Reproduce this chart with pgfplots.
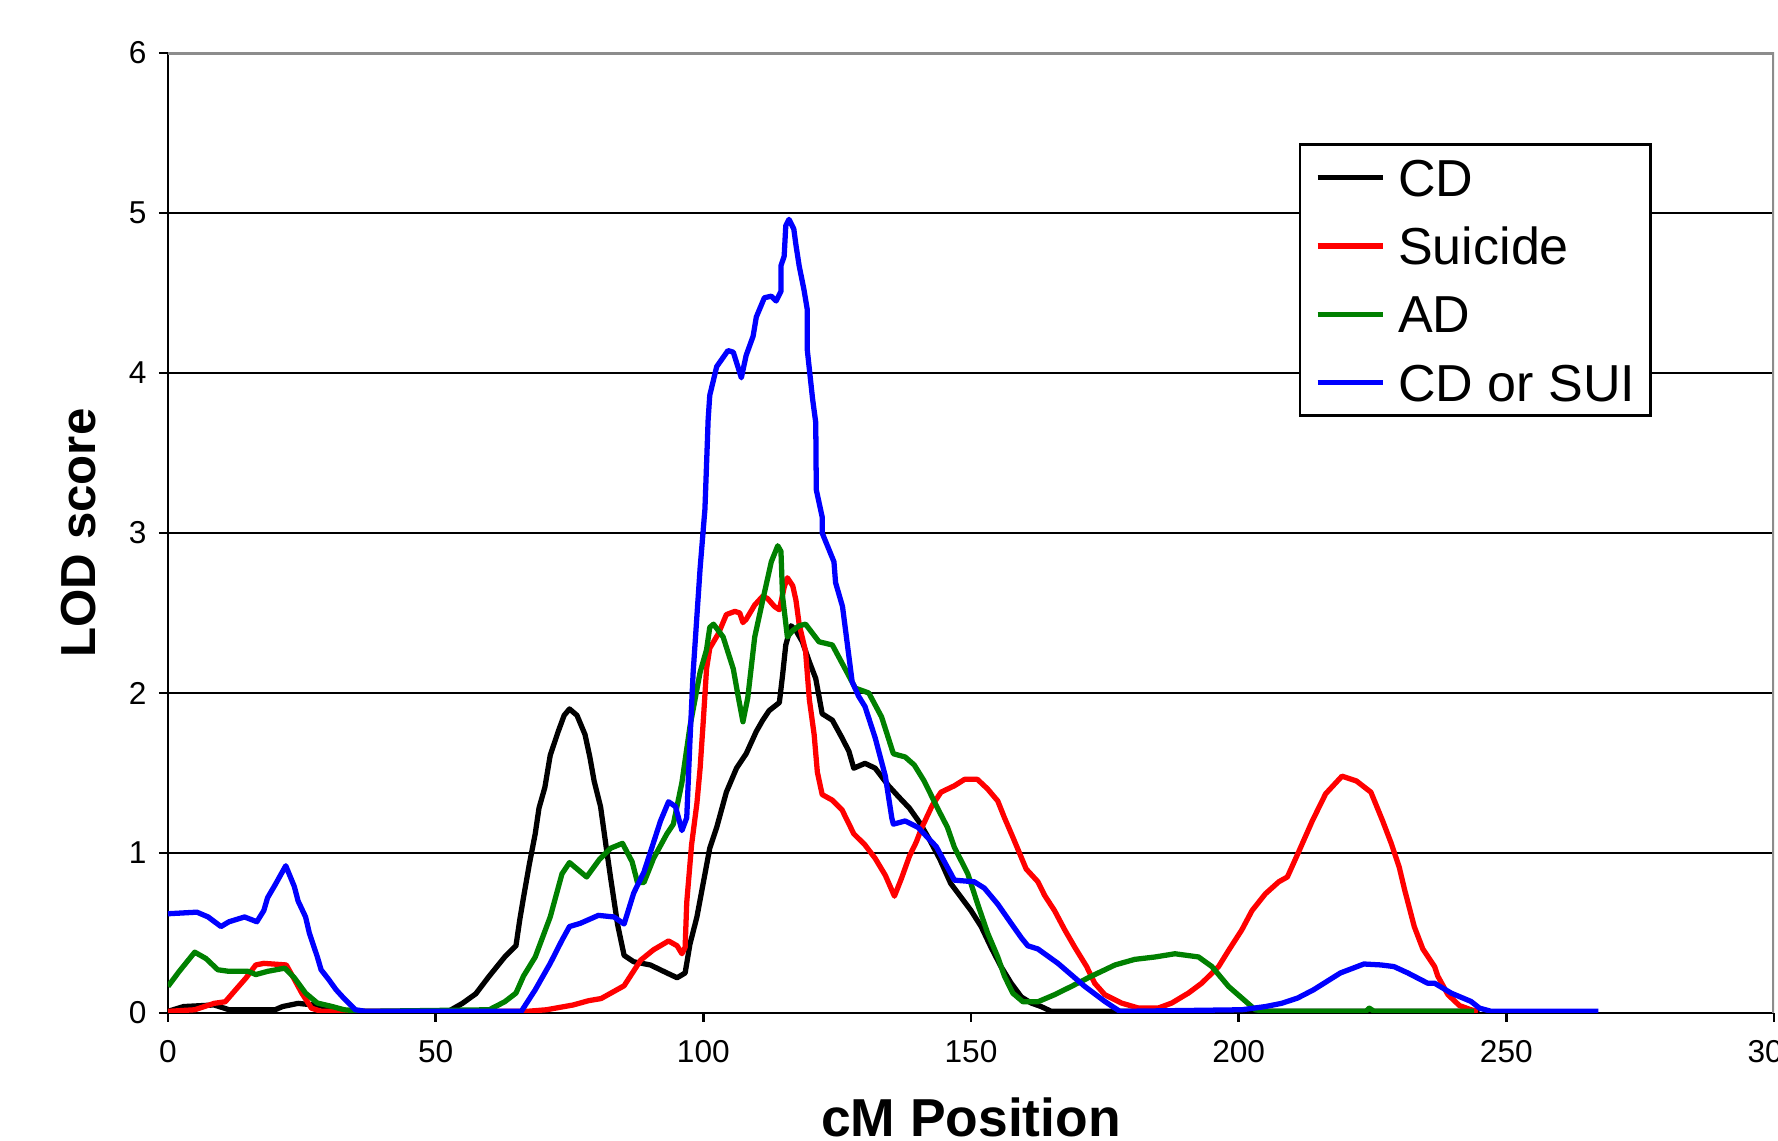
\documentclass[border=0pt]{standalone}
\usepackage{fontspec}
\setmainfont{Liberation Sans}
\usepackage{pgfplots}
\pgfplotsset{compat=1.18}
\usetikzlibrary{calc}
\definecolor{lodgreen}{HTML}{008000}
\definecolor{framegray}{HTML}{8C8C8C}

\begin{document}
\begin{tikzpicture}
\begin{axis}[
name=ax,
scale only axis,
width=16.06cm,height=9.6cm,
xmin=0,xmax=300,ymin=0,ymax=6,
xtick={0,50,...,300},ytick={0,...,6},
axis x line*=bottom,axis y line*=left,
axis line style={line width=0.8pt},
tick align=outside,major tick length=0.09cm,
tick style={line width=0.8pt,black},
ymajorgrids,grid style={line width=0.7pt,black},
/pgf/number format/assume math mode=true,
ticklabel style={font=\fontsize{9}{10}\selectfont},
xticklabel style={yshift=-0.06cm},
xlabel={\bfseries cM Position},
ylabel={\bfseries LOD score},
xlabel style={font=\fontsize{15.2}{17}\selectfont,at={(axis description cs:0.5,0)},anchor=center,yshift=-1.04cm},
ylabel style={font=\fontsize{14}{16}\selectfont,at={(axis description cs:-0.0554,0.5)},anchor=center},
legend style={at={(0.704,0.906)},anchor=north west,draw=black,line width=0.8pt,
  font=\fontsize{14.8}{17}\selectfont,inner xsep=0.15cm,inner ysep=0.145cm,row sep=0.314cm,
  nodes={inner sep=0pt,text height=0.37cm,text depth=0cm},
  /tikz/every odd column/.append style={column sep=0.13cm}},
legend cell align=left,
legend image code/.code={\draw[#1] (0cm,0cm) -- (0.65cm,0cm);},
every axis plot/.append style={line width=1.5pt,line join=round},
]
% CD
\addplot[black] coordinates {
(0,0.01)(2.9,0.04)(8.6,0.05)(10.5,0.03)(11.4,0.02)(20,0.02)(21.4,0.04)(24.3,0.06)(27.1,0.05)(29.3,0.04)(31.4,0.01)(35,0)(52,0)
(52.9,0.02)(55,0.06)(57.5,0.12)(60,0.23)(62.9,0.35)(65,0.42)(65.7,0.58)(66.4,0.72)(67.5,0.93)(68.6,1.12)(69.3,1.28)(70.4,1.41)
(71.4,1.61)(72.9,1.76)(74,1.86)(75,1.9)(76.4,1.86)(77.9,1.74)(78.8,1.6)(79.6,1.45)(80.8,1.29)(81.8,1.05)(82.7,0.84)(84,0.55)
(85.2,0.36)(87,0.32)(90.1,0.30)(93.2,0.25)(95.1,0.22)(96.6,0.25)(97.5,0.43)(98.8,0.6)(100,0.815)(101.2,1.03)(102.5,1.16)
(104.3,1.38)(106.2,1.53)(108,1.62)(109.9,1.76)(111.1,1.83)(112.3,1.89)(114.2,1.94)(114.8,2.11)(115.4,2.3)(116.4,2.42)
(117.3,2.39)(118.5,2.32)(119.8,2.195)(121,2.09)(122.2,1.87)(124.1,1.83)(125.9,1.72)(127.2,1.635)(128.1,1.53)(130.2,1.56)
(132.1,1.53)(134.6,1.42)(136.4,1.354)(138.5,1.28)(140.4,1.19)(142.3,1.08)(144.2,0.96)(146.2,0.81)(148.1,0.725)(150,0.64)
(151.9,0.54)(153.75,0.41)(155.6,0.29)(157.5,0.186)(159.4,0.10)(161.25,0.062)(163.1,0.04)(165,0.01)(245,0.01)
};
\addlegendentry{CD}
% Suicide
\addplot[red] coordinates {
(0,0.01)(5,0.02)(8.6,0.06)(10.7,0.07)(12.9,0.155)(14.6,0.22)(16.4,0.30)(17.9,0.31)(22.1,0.30)(23.6,0.21)(25,0.124)(26.8,0.03)
(28.6,0.01)(67,0.01)(70.7,0.02)(75.7,0.05)(78.6,0.077)(80.9,0.09)(85.2,0.17)(88.3,0.33)(90.7,0.395)(93.5,0.45)(95.1,0.42)
(96,0.37)(96.6,0.41)(96.9,0.69)(97.8,1.05)(98.8,1.31)(99.4,1.53)(100,1.83)(100.6,2.15)(101.2,2.28)(102.8,2.37)(104.3,2.49)
(105.9,2.51)(106.8,2.5)(107.4,2.44)(108,2.46)(109.6,2.55)(111.1,2.605)(112,2.59)(113.3,2.54)(114.2,2.52)(115.1,2.66)
(115.7,2.72)(116.7,2.67)(117.3,2.58)(117.9,2.43)(119.1,2.26)(119.8,1.96)(120.7,1.74)(121.3,1.505)(122.2,1.365)(124.1,1.33)
(125.9,1.27)(128.1,1.12)(130.2,1.05)(132.1,0.966)(134,0.86)(135.7,0.73)(137,0.84)(138.5,0.98)(139.8,1.07)(140.7,1.15)
(142.8,1.3)(144.4,1.38)(146.9,1.42)(148.8,1.46)(151.2,1.46)(153.1,1.40)(155,1.325)(156.25,1.22)(157.8,1.10)(160.3,0.90)
(162.5,0.82)(163.75,0.735)(165.6,0.64)(167.5,0.52)(169.4,0.41)(171.6,0.29)(173.1,0.186)(175,0.114)(178.1,0.062)(181.25,0.031)
(185,0.031)(187.5,0.062)(190.6,0.124)(193.1,0.186)(196.25,0.29)(198.1,0.39)(200.6,0.52)(202.5,0.64)(205,0.745)(207.5,0.82)
(209.1,0.85)(211.25,1.01)(213.75,1.20)(216.25,1.37)(219.3,1.48)(222,1.45)(224.7,1.38)(226.9,1.20)(228.5,1.06)(230,0.91)
(231,0.77)(232.8,0.54)(234.4,0.40)(236.6,0.29)(237.2,0.23)(239.1,0.114)(241.25,0.046)(243.4,0.02)(244.7,0.01)
};
\addlegendentry{Suicide}
% AD
\addplot[lodgreen] coordinates {
(0,0.166)(2.1,0.26)(5,0.38)(7.1,0.34)(9.3,0.27)(11.4,0.26)(15,0.26)(16.4,0.24)(18.6,0.26)(21.8,0.28)(23.6,0.22)(25.7,0.124)
(27.9,0.062)(30.7,0.04)(32.9,0.02)(36.4,0.01)(60,0.02)(62.9,0.07)(65,0.124)(66.4,0.23)(68.6,0.35)(71.4,0.60)(73.6,0.87)
(75,0.94)(78.2,0.85)(80.6,0.96)(82.7,1.03)(84.9,1.06)(86.7,0.945)(87.7,0.815)(88.9,0.815)(90.7,0.966)(93.2,1.12)(94.4,1.18)
(96,1.44)(97.5,1.79)(99.4,2.13)(100.6,2.27)(101.2,2.41)(101.9,2.43)(103.7,2.35)(105.6,2.15)(106.5,1.98)(107.4,1.82)
(108.3,1.97)(109.6,2.35)(111.1,2.58)(112.7,2.82)(113.9,2.92)(114.5,2.885)(114.8,2.605)(115.7,2.35)(116.7,2.39)(117.9,2.42)
(119.1,2.43)(121.6,2.32)(124.1,2.30)(126.5,2.15)(128.4,2.03)(130.9,2.0)(133.3,1.85)(135.5,1.62)(137.7,1.60)(139.4,1.55)
(141.25,1.45)(143.75,1.28)(145.6,1.16)(146.9,1.035)(149.4,0.87)(151.25,0.68)(153.1,0.50)(155,0.35)(156.25,0.23)(157.8,0.124)
(159.7,0.07)(162.5,0.07)(165.6,0.114)(168.75,0.166)(172.5,0.23)(176.9,0.30)(180.6,0.335)(184.4,0.35)(188.1,0.37)(192.5,0.35)
(195,0.29)(198.1,0.166)(200.6,0.093)(203.1,0.02)(205,0.01)(223.75,0.01)(224.4,0.03)(225.3,0.01)(244,0.01)
};
\addlegendentry{AD}
% CD or SUI
\addplot[blue] coordinates {
(0,0.62)(5.4,0.63)(7.5,0.60)(9.9,0.54)(11.4,0.57)(14.3,0.60)(16.6,0.57)(17.9,0.64)(18.6,0.72)(20,0.80)(22,0.92)(23.6,0.79)
(24.3,0.70)(25.7,0.60)(26.4,0.50)(27.9,0.35)(28.6,0.27)(30,0.21)(31.4,0.145)(32.9,0.09)(35,0.02)(37,0.01)(66,0.01)(68.6,0.145)
(71.4,0.31)(73.6,0.455)(75,0.54)(77,0.56)(80.4,0.61)(83.3,0.60)(85.2,0.556)(87,0.75)(88.9,0.88)(92,1.2)(93.5,1.32)(94.8,1.29)
(96,1.14)(96.9,1.22)(97.5,1.70)(98.1,2.13)(99.4,2.78)(100.3,3.15)(100.7,3.52)(100.9,3.71)(101.2,3.86)(102.5,4.04)(104.6,4.14)
(105.6,4.13)(107.1,3.97)(108,4.11)(109.3,4.23)(109.9,4.35)(111.4,4.47)(112.7,4.48)(113.6,4.45)(114.5,4.51)(114.5,4.67)
(115.1,4.73)(115.4,4.92)(116,4.96)(116.9,4.9)(117.3,4.8)(117.9,4.67)(118.8,4.52)(119.4,4.40)(119.4,4.15)(120.4,3.84)(121,3.69)
(121.1,3.27)(122.2,3.1)(122.2,3.0)(124.4,2.82)(124.7,2.69)(126,2.54)(127.8,2.07)(129,1.98)(130.2,1.915)(132.1,1.72)(134,1.48)
(135.2,1.22)(135.5,1.18)(137.7,1.20)(140.1,1.16)(143.5,1.04)(146.9,0.83)(150.6,0.82)(152.5,0.78)(155,0.68)(157.5,0.56)
(159.4,0.47)(160.6,0.42)(162.5,0.40)(166.25,0.31)(171.25,0.166)(175,0.072)(177.8,0.01)(200.6,0.02)(205,0.04)(208,0.06)
(211,0.093)(214,0.145)(219,0.25)(223.4,0.306)(226.6,0.30)(229,0.29)(231.6,0.25)(235.3,0.186)(236.6,0.186)(239.7,0.124)
(243.4,0.072)(245,0.03)(247.2,0.01)(267.2,0.01)
};
\addlegendentry{CD or SUI}
\draw[framegray,line width=1pt] (rel axis cs:0,1) -- (rel axis cs:1,1) -- (rel axis cs:1,0);
\end{axis}
\pgfresetboundingbox
\path[use as bounding box] ($(ax.south west)+(-1.68cm,-1.28cm)$) rectangle ($(ax.north east)+(0.04cm,0.53cm)$);
\end{tikzpicture}
\end{document}
